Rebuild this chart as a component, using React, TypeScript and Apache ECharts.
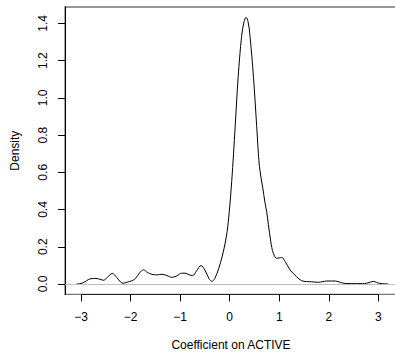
import React, { useEffect, useRef } from "react";
import * as echarts from "echarts";

const densityX: number[] = [
  -3.09, -3.0, -2.92, -2.85, -2.75, -2.65, -2.55, -2.47, -2.37, -2.28, -2.2, -2.15,
  -2.07, -1.98, -1.9, -1.82, -1.74, -1.66, -1.57, -1.47, -1.37, -1.27, -1.17, -1.07,
  -0.97, -0.9, -0.82, -0.75, -0.67, -0.58, -0.5, -0.42, -0.36, -0.3, -0.22, -0.15,
  -0.08, -0.03, 0.04, 0.11, 0.17, 0.24, 0.29, 0.33, 0.37, 0.41, 0.48, 0.545, 0.6,
  0.665, 0.71, 0.745, 0.78, 0.83, 0.88, 0.95, 1.0, 1.05, 1.12, 1.22, 1.35, 1.45,
  1.55, 1.65, 1.79, 1.88, 1.96, 2.05, 2.13, 2.23, 2.33, 2.45, 2.56, 2.68, 2.76,
  2.84, 2.9, 2.96, 3.03, 3.13, 3.2,
];
const densityY: number[] = [
  0.0, 0.003, 0.012, 0.024, 0.03, 0.028, 0.02, 0.035, 0.057, 0.035, 0.01, 0.004,
  0.01, 0.017, 0.03, 0.06, 0.076, 0.062, 0.052, 0.049, 0.052, 0.046, 0.036, 0.043,
  0.058, 0.058, 0.05, 0.045, 0.07, 0.099, 0.075, 0.03, 0.014, 0.03, 0.085, 0.15,
  0.236, 0.33, 0.55, 0.845, 1.11, 1.33, 1.41, 1.432, 1.41, 1.33, 1.11, 0.845, 0.63,
  0.52, 0.44, 0.39, 0.32, 0.226, 0.165, 0.138, 0.14, 0.143, 0.12, 0.075, 0.039, 0.018,
  0.013, 0.012, 0.009, 0.013, 0.016, 0.016, 0.016, 0.009, 0.003, 0.002, 0.002, 0.002, 0.004,
  0.01, 0.014, 0.009, 0.003, 0.001, 0.0,
];
const xTicks: number[] = [-3, -2, -1, 0, 1, 2, 3];
const yTicks: number[] = [0, 0.2, 0.4, 0.6, 0.8, 1.0, 1.2, 1.4];

const X_MIN = -3.324;
const X_MAX = 3.376;
const Y_MIN = -0.0553;
const Y_MAX = 1.4877;

export default function App() {
  const ref = useRef<HTMLDivElement>(null);
  useEffect(() => {
    if (!ref.current) return;
    const chart = echarts.init(ref.current, undefined, { renderer: "svg" });
    const font = "'Liberation Sans', Arial, Helvetica, sans-serif";
    const data = densityX.map((x, i) => [x, densityY[i]]);
    chart.setOption({
      animation: false,
      backgroundColor: "#ffffff",
      grid: {
        left: 65,
        top: 7,
        width: 332,
        height: 287.3,
        containLabel: false,
        outerBoundsMode: "none",
        show: true,
        borderColor: "#777777",
        borderWidth: 1.3,
        backgroundColor: "transparent",
      },
      xAxis: {
        type: "value",
        min: X_MIN,
        max: X_MAX,
        name: "Coefficient on ACTIVE",
        nameLocation: "middle",
        nameGap: 45,
        nameTextStyle: { color: "#000", fontSize: 12, fontFamily: font },
        axisLine: { show: false, onZero: false },
        splitLine: { show: false },
        axisTick: {
          show: true,
          length: 7,
          customValues: xTicks,
          lineStyle: { color: "#000", width: 1 },
        },
        axisLabel: {
          customValues: xTicks,
          color: "#000",
          fontSize: 12,
          fontFamily: font,
          margin: 17,
          formatter: (v: number) => String(v).replace("-", "\u2212"),
        },
      },
      yAxis: {
        type: "value",
        min: Y_MIN,
        max: Y_MAX,
        name: "Density",
        nameLocation: "middle",
        nameGap: 44,
        nameRotate: 90,
        nameTextStyle: { color: "#000", fontSize: 12, fontFamily: font },
        axisLine: { show: true, onZero: false, lineStyle: { color: "#000", width: 1 } },
        splitLine: { show: false },
        axisTick: {
          show: true,
          length: 7,
          customValues: yTicks,
          lineStyle: { color: "#000", width: 1 },
        },
        axisLabel: {
          customValues: yTicks,
          rotate: 90,
          color: "#000",
          fontSize: 12,
          fontFamily: font,
          margin: 16,
          formatter: (v: number) => v.toFixed(1),
        },
      },
      series: [
        {
          type: "line",
          data,
          smooth: 0.35,
          symbol: "none",
          lineStyle: { color: "#000", width: 1 },
          z: 3,
          markLine: {
            silent: true,
            symbol: "none",
            label: { show: false },
            animation: false,
            data: [
              [
                { coord: [X_MIN, 0], lineStyle: { color: "#bebebe", width: 1, type: "solid" } },
                { coord: [X_MAX, 0] },
              ],
              [
                { coord: [-3, Y_MIN], lineStyle: { color: "#222", width: 1, type: "solid" } },
                { coord: [3, Y_MIN] },
              ],
            ],
          },
        },
      ],
    });
    return () => chart.dispose();
  }, []);
  return (
    <div
      ref={ref}
      style={{ position: "absolute", left: 0, top: 0, width: 395, height: 352, background: "#fff" }}
    />
  );
}
